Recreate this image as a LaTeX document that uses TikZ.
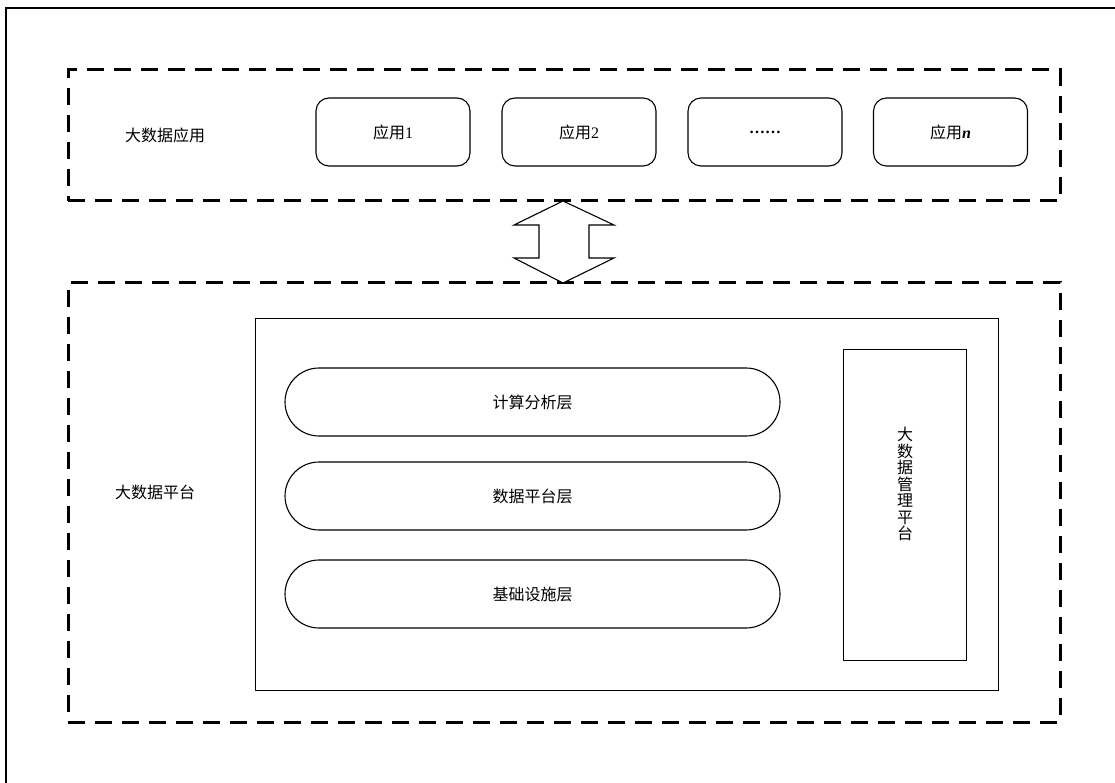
\documentclass[tikz,border=0pt]{standalone}
\usepackage{fontspec}
\setmainfont{Liberation Serif}
\newfontfamily\cjk{Noto Sans CJK SC}
\begin{document}
\begin{tikzpicture}[x=1pt,y=-1pt,
  every node/.style={font=\cjk\fontsize{16}{16.5}\selectfont, inner sep=0pt},
  dashbox/.style={draw, line width=3pt, dash pattern=on 17pt off 10pt},
  appbox/.style={draw, line width=1.1pt, rounded corners=13pt, minimum width=154pt, minimum height=68pt},
  layer/.style={draw, line width=1.1pt, rounded corners=34pt, minimum width=495pt, minimum height=68pt},
  plain/.style={draw, line width=0.9pt}]
\useasboundingbox (0,0) rectangle (1115,783);
% outer frame (left and top edges only visible)
\coordinate (fbl) at (6,783);
\coordinate (ftl) at (6,8);
\coordinate (ftr) at (1115,8);
\draw[line width=1.6pt] (fbl) -- (ftl) -- (ftr);
% top dashed region
\node[dashbox, minimum width=992pt, minimum height=131pt] (top) at (564,135.5) {};
\node (applbl) at (165,135) {大数据应用};
\node[appbox] (a1) at (393,132) {应用{\rmfamily 1}};
\node[appbox] (a2) at (579,132) {应用{\rmfamily 2}};
\node[appbox] (a3) at (765,132) {{\rmfamily\bfseries ……}};
\node[appbox] (a4) at (950.5,132) {应用{\rmfamily\bfseries\itshape n}};
% bottom dashed region
\node[dashbox, minimum width=992pt, minimum height=439pt] (bot) at (564,502.5) {};
\node (platlbl) at (155,492) {大数据平台};
\node[plain, minimum width=743pt, minimum height=372pt] (inner) at (626.5,504) {};
\node[layer] (l1) at (532.5,402) {计算分析层};
\node[layer] (l2) at (532.5,496) {数据平台层};
\node[layer] (l3) at (532.5,594) {基础设施层};
\node[plain, minimum width=123pt, minimum height=311pt] (mgmt) at (904.5,504.5) {};
\node[align=center] (mgmtlbl) at (905,484) {大\\数\\据\\管\\理\\平\\台};
% double arrow
\coordinate (t) at (563,201);
\coordinate (b) at (563,283);
\draw[line width=1.1pt, fill=white] (t) -- (614,225) -- (589,225) -- (589,258) -- (614,258) -- (b)
  -- (514,258) -- (539,258) -- (539,225) -- (514,225) -- cycle;
\end{tikzpicture}
\end{document}
